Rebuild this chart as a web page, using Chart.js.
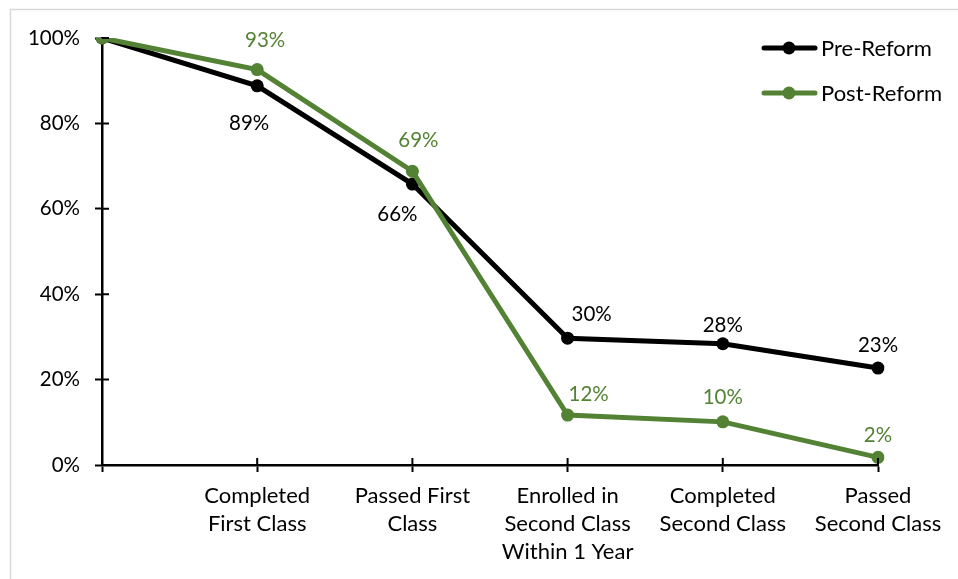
<!DOCTYPE html>
<html>
<head>
<meta charset="utf-8">
<script src="https://cdn.jsdelivr.net/npm/chart.js@4"></script>
<style>
  html, body { margin: 0; padding: 0; background: #fff; overflow: hidden; }
  #wrap { width: 958px; height: 579px; }
</style>
</head>
<body>
<div id="wrap"><canvas id="chart" width="958" height="579"></canvas></div>
<script>
// stages along the x axis (first one is the starting cohort, unlabeled)
const stages = [
  '',
  ['Completed', 'First Class'],
  ['Passed First', 'Class'],
  ['Enrolled in', 'Second Class', 'Within 1 Year'],
  ['Completed', 'Second Class'],
  ['Passed', 'Second Class']
];
const preReform = [100, 88.8, 65.8, 29.7, 28.4, 22.7];
const postReform = [100, 92.6, 68.8, 11.7, 10.1, 1.8];
const yTicks = [0, 20, 40, 60, 80, 100];

const BLACK = '#000000';
const GREEN = '#548235';
const FONT = 'Lato, "Open Sans", sans-serif';

// value labels next to points (null = no label), offsets in px from the point
const labelPlugin = {
  id: 'pointLabels',
  afterDatasetsDraw(chart) {
    const ctx = chart.ctx;
    ctx.save();
    ctx.font = '20.5px ' + FONT;
    ctx.textAlign = 'center';
    ctx.textBaseline = 'middle';
    chart.data.datasets.forEach((ds, di) => {
      const meta = chart.getDatasetMeta(di);
      ctx.fillStyle = ds.borderColor;
      meta.data.forEach((pt, i) => {
        const off = ds.labelOffsets[i];
        if (!off) return;
        ctx.fillText(Math.round(ds.data[i]) + '%', pt.x + off[0], pt.y + off[1]);
      });
    });
    ctx.restore();
  }
};

// frame, cross tick marks and legend
const decoPlugin = {
  id: 'deco',
  beforeDraw(chart) {
    const ctx = chart.ctx;
    ctx.save();
    ctx.strokeStyle = '#d9d9d9';
    ctx.lineWidth = 1.5;
    ctx.beginPath();
    ctx.moveTo(10.5, 579);
    ctx.lineTo(10.5, 9.5);
    ctx.lineTo(958, 9.5);
    ctx.stroke();
    ctx.restore();
  },
  afterDraw(chart) {
    const ctx = chart.ctx;
    const xs = chart.scales.x, ys = chart.scales.y;
    ctx.save();
    ctx.strokeStyle = BLACK;
    ctx.lineWidth = 2;
    ctx.beginPath();
    xs.ticks.forEach((t, i) => {
      if (i === 0) return;
      const x = xs.getPixelForTick(i);
      ctx.moveTo(x, ys.bottom);
      ctx.lineTo(x, ys.bottom - 7);
    });
    ys.ticks.forEach((t, i) => {
      const y = ys.getPixelForTick(i);
      ctx.moveTo(xs.left, y);
      ctx.lineTo(xs.left + 7, y);
    });
    ctx.stroke();

    // legend
    const items = [
      { text: 'Pre-Reform', color: BLACK, y: 48 },
      { text: 'Post-Reform', color: GREEN, y: 93 }
    ];
    ctx.font = '22px ' + FONT;
    ctx.textBaseline = 'middle';
    ctx.textAlign = 'left';
    items.forEach(it => {
      ctx.strokeStyle = it.color;
      ctx.fillStyle = it.color;
      ctx.lineWidth = 5;
      ctx.lineCap = 'round';
      ctx.beginPath();
      ctx.moveTo(764, it.y);
      ctx.lineTo(815, it.y);
      ctx.stroke();
      ctx.beginPath();
      ctx.arc(789, it.y, 6.5, 0, Math.PI * 2);
      ctx.fill();
      ctx.fillStyle = '#000';
      ctx.fillText(it.text, 821, it.y + 1);
    });
    ctx.restore();
  }
};

new Chart(document.getElementById('chart'), {
  type: 'line',
  data: {
    labels: stages,
    datasets: [
      {
        label: 'Pre-Reform',
        data: preReform,
        borderColor: BLACK,
        backgroundColor: BLACK,
        borderWidth: 5,
        pointRadius: 6.5,
        pointBorderWidth: 0,
        order: 1,
        labelOffsets: [null, [-8, 38], [-15, 30], [24, -24], [0, -18], [0, -23]]
      },
      {
        label: 'Post-Reform',
        data: postReform,
        borderColor: GREEN,
        backgroundColor: GREEN,
        borderWidth: 5,
        pointRadius: 6.5,
        pointBorderWidth: 0,
        order: 0,
        labelOffsets: [null, [8, -29], [6, -31], [21, -21], [0, -24], [0, -22]]
      }
    ]
  },
  options: {
    responsive: false,
    animation: false,
    layout: { padding: { left: 0, top: 38, right: 80, bottom: 0 } },
    plugins: {
      legend: { display: false },
      tooltip: { enabled: false }
    },
    scales: {
      x: {
        offset: false,
        afterFit(scale) { scale.height = 114; },
        border: { display: true, color: BLACK, width: 2.5 },
        grid: { drawOnChartArea: false, drawTicks: true, tickLength: 7, tickColor: BLACK, tickWidth: 2 },
        ticks: {
          color: '#000',
          font: { family: FONT, size: 22, lineHeight: 1.28 },
          maxRotation: 0,
          autoSkip: false,
          padding: 10
        }
      },
      y: {
        min: 0,
        max: 100,
        afterFit(scale) { scale.width = 102; },
        afterBuildTicks(scale) { scale.ticks = yTicks.map(v => ({ value: v })); },
        border: { display: true, color: BLACK, width: 2.5 },
        grid: { drawOnChartArea: false, drawTicks: true, tickLength: 7, tickColor: BLACK, tickWidth: 2 },
        ticks: {
          color: '#000',
          font: { family: FONT, size: 20.5 },
          padding: 15,
          callback: v => v + '%'
        }
      }
    }
  },
  plugins: [labelPlugin, decoPlugin]
});
</script>
</body>
</html>
